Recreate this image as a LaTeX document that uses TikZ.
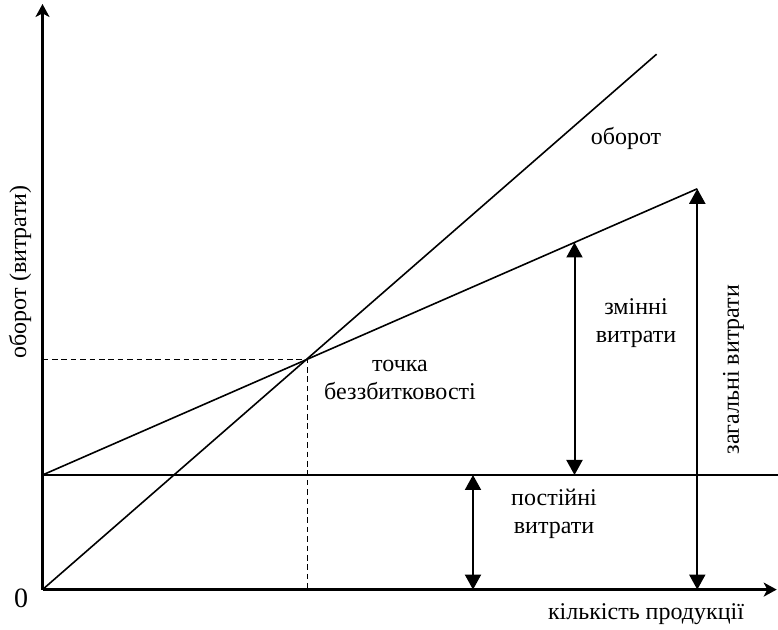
\documentclass[tikz,border=0pt]{standalone}
\usepackage{fontspec}
\setmainfont{Liberation Serif}
\usepackage{tikz}
\usetikzlibrary{arrows.meta}
\tikzset{
    lbl/.style={inner sep=0pt, align=center, font=\fontsize{12pt}{14pt}\selectfont}
}
\tikzset{
    axis/.style={line width=1.15pt, -{Stealth[length=6.5pt,width=7pt,inset=1.8pt]}},
    graph/.style={line width=0.8pt},
    helper/.style={line width=0.65pt, dash pattern=on 2.8pt off 1.9pt},
    span/.style={line width=1pt, {Triangle[length=7.5pt,width=8pt]}-{Triangle[length=7.5pt,width=8pt]}}
}

\begin{document}
\begin{tikzpicture}[x=0.5pt,y=0.5pt]
  \useasboundingbox (-42.5,-40.4) rectangle (735.5,589.6);

  \coordinate (O) at (0,0);
  \coordinate (ytop) at (0,585.6);
  \coordinate (xend) at (734.2,0);
  \coordinate (F) at (0,114.6);
  \coordinate (Fend) at (735.5,114.6);
  \coordinate (B) at (264.8,230.4);
  \coordinate (Bx) at (264.8,0);
  \coordinate (By) at (0,230.4);
  \coordinate (R) at (614.1,535.4);
  \coordinate (C) at (654.8,400.8);
  \coordinate (Cx) at (654.8,0);
  \coordinate (V0) at (532,114.6);
  \coordinate (V1) at (532,347.1);
  \coordinate (P0) at (430.5,0);
  \coordinate (P1) at (430.5,114.6);

  \node (turn) [lbl] at (583.5,451) {оборот};
  \node (var) [lbl] at (593.5,266.6) {змінні\\витрати};
  \node (bep) [lbl] at (357.5,209.6) {точка\\беззбитковості};
  \node (fix) [lbl] at (511.5,75.6) {постійні\\витрати};
  \node (tot) [lbl, rotate=90] at (691,220.1) {загальні витрати};
  \node (ylab) [lbl, rotate=90] at (-22.5,317.6) {оборот (витрати)};
  \node (zero) [lbl, font=\fontsize{14pt}{16pt}\selectfont] at (-21.5,-8.4) {0};
  \node (xlab) [lbl] at (603.5,-25) {кількість продукції};

  \draw [helper] (By) -- (B) -- (Bx);
  \draw [graph] (F) -- (Fend);
  \draw [graph] (O) -- (R);
  \draw [graph] (F) -- (C);
  \draw [span] (V0) -- (V1);
  \draw [span] (P0) -- (P1);
  \draw [span] (Cx) -- (C);
  \draw [axis] (O) -- (ytop);
  \draw [axis] (O) -- (xend);
\end{tikzpicture}
\end{document}
